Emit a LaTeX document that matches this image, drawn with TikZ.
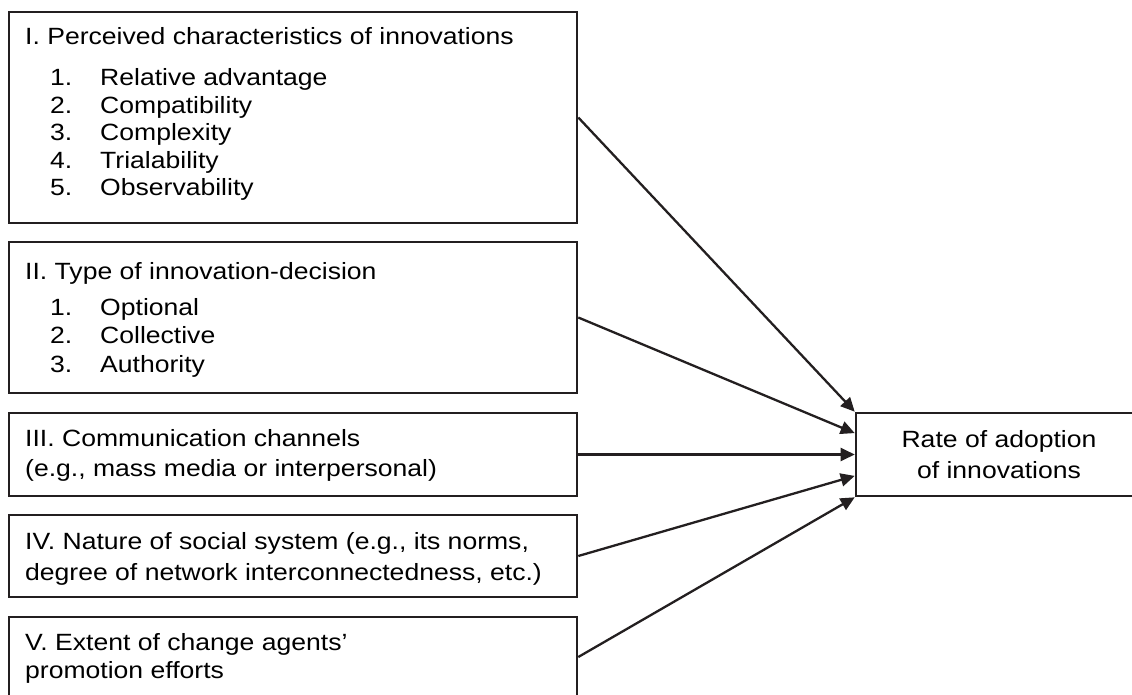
\documentclass[tikz,border=0pt]{standalone}
\usepackage{fontspec}
\setmainfont{Liberation Sans}[FakeStretch=1.13]
\usetikzlibrary{arrows.meta,calc}
\definecolor{ink}{HTML}{231F20}
\begin{document}
\begin{tikzpicture}[x=1pt,y=-1pt,
  box/.style={draw=ink, line width=2.6pt, inner sep=0pt, anchor=center},
  lbox/.style={box, minimum width=568pt},
  txt/.style={anchor=base west, inner sep=0pt, text=black,
              font=\fontsize{23.5}{28}\selectfont},
  ctxt/.style={txt, anchor=base},
  link/.style={draw=ink, line width=2.3pt, -{Triangle[length=14pt,width=13pt]}}]
\useasboundingbox (0,0) rectangle (1132,695);
\clip (0,0) rectangle (1132,695);

% factor boxes
\node[lbox, minimum height=211pt] (b1) at (293,117.5) {};
\node[lbox, minimum height=151pt] (b2) at (293,317.5) {};
\node[lbox, minimum height=83pt]  (b3) at (293,454.5) {};
\node[lbox, minimum height=82pt]  (b4) at (293,556) {};
\node[lbox, minimum height=80pt]  (b5) at (293,657) {};
% outcome box
\node[box, minimum width=286pt, minimum height=83pt] (r) at (999,454.5) {};

% I
\node[txt] (t1) at (25,45) {I. Perceived characteristics of innovations};
\node[txt] (n11) at (50,86)    {1.}; \node[txt] (i11) at (100,86)    {Relative advantage};
\node[txt] (n12) at (50,113.5) {2.}; \node[txt] (i12) at (100,113.5) {Compatibility};
\node[txt] (n13) at (50,141)   {3.}; \node[txt] (i13) at (100,141)   {Complexity};
\node[txt] (n14) at (50,168.5) {4.}; \node[txt] (i14) at (100,168.5) {Trialability};
\node[txt] (n15) at (50,196)   {5.}; \node[txt] (i15) at (100,196)   {Observability};

% II
\node[txt] (t2) at (25,279) {II. Type of innovation-decision};
\node[txt] (n21) at (50,315)   {1.}; \node[txt] (i21) at (100,315)   {Optional};
\node[txt] (n22) at (50,343.5) {2.}; \node[txt] (i22) at (100,343.5) {Collective};
\node[txt] (n23) at (50,372)   {3.}; \node[txt] (i23) at (100,372)   {Authority};

% III
\node[txt] (t3a) at (25,446) {III. Communication channels};
\node[txt] (t3b) at (25,476) {(e.g., mass media or interpersonal)};

% IV
\node[txt] (t4a) at (25,549) {IV. Nature of social system (e.g., its norms,};
\node[txt] (t4b) at (25,580) {degree of network interconnectedness, etc.)};

% V
\node[txt] (t5a) at (25,650) {V. Extent of change agents’};
\node[txt] (t5b) at (25,678) {promotion efforts};

% outcome text
\node[ctxt] (ra) at (999,447) {Rate of adoption};
\node[ctxt] (rb) at (999,478) {of innovations};

% connectors
\draw[link] (b1.east) -- (r.north west);
\draw[link] (b2.east) -- ($(r.north west)!0.25!(r.south west)$);
\draw[link] (b3.east) -- (r.west);
\draw[link] (b4.east) -- ($(r.north west)!0.75!(r.south west)$);
\draw[link] (b5.east) -- (r.south west);
\end{tikzpicture}
\end{document}
